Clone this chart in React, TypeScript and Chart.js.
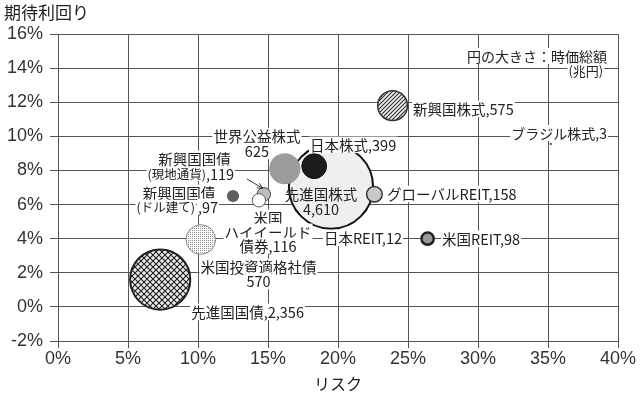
import React, { useEffect, useRef } from 'react';
import { Chart, registerables } from 'chart.js';

Chart.register(...registerables);

// ---- data (risk %, expected return %, market cap in 兆円) ----
const assetNames = [
  '先進国株式',
  '先進国国債',
  '世界公益株式',
  '新興国株式',
  '米国投資適格社債',
  '日本株式',
  'グローバルREIT',
  '新興国国債(現地通貨)',
  '米国ハイイールド債券',
  '日本REIT',
  '米国REIT',
  '新興国国債(ドル建て)',
  'ブラジル株式',
];
const riskPct = [19.5, 7.3, 16.2, 23.9, 10.2, 18.3, 22.6, 14.7, 14.35, 26.3, 26.4, 12.5, 35.2];
const returnPct = [7.05, 1.6, 8.1, 11.8, 3.95, 8.25, 6.6, 6.6, 6.25, 4.0, 4.0, 6.5, 9.55];
const marketCap = [4610, 2356, 625, 575, 570, 399, 158, 119, 116, 12, 98, 97, 3];

const xTickStep = 5;
const yTickStep = 2;

const FONT_JP = '"Noto Sans CJK JP", "Noto Sans", sans-serif';
const FONT_TICK = '"Liberation Sans", Arial, sans-serif';

// ---- styles (kept apart from data) ----
const fillKinds: string[] = [
  '#efefef', 'cross', '#9c9c9c', 'hatch', 'stipple', '#1c1c1c', '#c9c9c9',
  '#bdbdbd', '#ffffff', '#999999', '#9a9a9a', '#5e5e5e', '#333333',
];
const borderColors = [
  '#111', '#222', '#9c9c9c', '#333', '#8a8a8a', '#111', '#333',
  '#444', '#555', '#222', '#222', '#5e5e5e', '#333',
];
const borderWidths = [2, 2, 0, 1.5, 1, 1, 1.5, 1, 1, 1.5, 2.5, 0, 0];

function makePattern(kind: string): CanvasPattern | string {
  const c = document.createElement('canvas');
  const g = c.getContext('2d')!;
  if (kind === 'hatch') {
    c.width = 4; c.height = 4;
    g.fillStyle = '#f2f2f2'; g.fillRect(0, 0, 4, 4);
    g.strokeStyle = '#2a2a2a'; g.lineWidth = 1.1;
    g.beginPath();
    g.moveTo(0, 4); g.lineTo(4, 0);
    g.moveTo(-1, 1); g.lineTo(1, -1);
    g.moveTo(3, 5); g.lineTo(5, 3);
    g.stroke();
  } else if (kind === 'cross') {
    c.width = 6; c.height = 6;
    g.fillStyle = '#f0f0f0'; g.fillRect(0, 0, 6, 6);
    g.strokeStyle = '#222'; g.lineWidth = 1.2;
    g.beginPath();
    g.moveTo(0, 0); g.lineTo(6, 6);
    g.moveTo(6, 0); g.lineTo(0, 6);
    g.stroke();
  } else if (kind === 'stipple') {
    c.width = 2; c.height = 2;
    g.fillStyle = '#ffffff'; g.fillRect(0, 0, 2, 2);
    g.fillStyle = '#8c8c8c'; g.fillRect(0, 0, 1, 1);
  } else {
    return kind;
  }
  return g.createPattern(c, 'repeat') || '#ccc';
}

// ---- annotations (text placed in data coordinates) ----
type Ann = { text: string; x: number; y: number; align: 'left' | 'right' | 'center'; size: number; bg: string | null };
const annotations: Ann[] = [
  { text: '円の大きさ：時価総額', x: 39.21, y: 14.72, align: 'right', size: 14, bg: '#fff' },
  { text: '(兆円)', x: 37.7, y: 13.83, align: 'center', size: 13, bg: '#fff' },
  { text: '新興国株式,575', x: 25.36, y: 11.61, align: 'left', size: 14.5, bg: '#fff' },
  { text: 'ブラジル株式,3', x: 39.21, y: 10.2, align: 'right', size: 14, bg: '#fff' },
  { text: '日本株式,399', x: 18.0, y: 9.5, align: 'left', size: 14.5, bg: '#fff' },
  { text: '世界公益株式', x: 14.21, y: 10.02, align: 'center', size: 14.5, bg: '#fff' },
  { text: '625', x: 14.21, y: 9.14, align: 'center', size: 14.5, bg: '#fff' },
  { text: '新興国国債', x: 9.75, y: 8.68, align: 'center', size: 14.5, bg: '#fff' },
  { text: '(現地通貨)', x: 10.57, y: 7.8, align: 'right', size: 12.5, bg: '#fff' },
  { text: ',119', x: 10.57, y: 7.8, align: 'left', size: 14.5, bg: '#fff' },
  { text: '新興国国債', x: 8.64, y: 6.68, align: 'center', size: 14.5, bg: '#fff' },
  { text: '(ドル建て)', x: 9.79, y: 5.86, align: 'right', size: 12.5, bg: '#fff' },
  { text: ',97', x: 10.0, y: 5.86, align: 'left', size: 14.5, bg: '#fff' },
  { text: '米国', x: 15.0, y: 5.22, align: 'center', size: 14.5, bg: '#fff' },
  { text: 'ハイイールド', x: 15.0, y: 4.4, align: 'center', size: 14.5, bg: '#fff' },
  { text: '債券,116', x: 15.0, y: 3.58, align: 'center', size: 14.5, bg: '#fff' },
  { text: '先進国株式', x: 18.79, y: 6.62, align: 'center', size: 14.5, bg: null },
  { text: '4,610', x: 18.79, y: 5.74, align: 'center', size: 14.5, bg: null },
  { text: 'グローバルREIT,158', x: 23.5, y: 6.62, align: 'left', size: 14.5, bg: '#fff' },
  { text: '日本REIT,12', x: 24.57, y: 4.04, align: 'right', size: 14.5, bg: '#fff' },
  { text: '米国REIT,98', x: 27.43, y: 3.99, align: 'left', size: 14.5, bg: '#fff' },
  { text: '米国投資適格社債', x: 14.32, y: 2.34, align: 'center', size: 14.5, bg: '#fff' },
  { text: '570', x: 14.32, y: 1.52, align: 'center', size: 14.5, bg: '#fff' },
  { text: '先進国国債,2,356', x: 13.54, y: -0.29, align: 'center', size: 14.5, bg: '#fff' },
];
const arrowFrom = { x: 13.5, y: 7.5 };
const arrowTo = { x: 14.62, y: 6.95 };

const labelPlugin = {
  id: 'bubbleLabels',
  afterDatasetsDraw(chart: any) {
    const { ctx, scales, chartArea } = chart;
    const xs = scales.x, ys = scales.y;
    ctx.save();
    // arrow
    const ax0 = xs.getPixelForValue(arrowFrom.x), ay0 = ys.getPixelForValue(arrowFrom.y);
    const ax1 = xs.getPixelForValue(arrowTo.x), ay1 = ys.getPixelForValue(arrowTo.y);
    ctx.strokeStyle = '#333'; ctx.lineWidth = 1;
    ctx.beginPath(); ctx.moveTo(ax0, ay0); ctx.lineTo(ax1, ay1); ctx.stroke();
    const ang = Math.atan2(ay1 - ay0, ax1 - ax0);
    ctx.beginPath();
    ctx.moveTo(ax1 - 6 * Math.cos(ang - 0.45), ay1 - 6 * Math.sin(ang - 0.45));
    ctx.lineTo(ax1, ay1);
    ctx.lineTo(ax1 - 6 * Math.cos(ang + 0.45), ay1 - 6 * Math.sin(ang + 0.45));
    ctx.stroke();

    ctx.textBaseline = 'middle';
    ctx.textAlign = 'left';
    for (const a of annotations) {
      const px = xs.getPixelForValue(a.x);
      const py = ys.getPixelForValue(a.y);
      ctx.font = `${a.size}px ${FONT_JP}`;
      const w = ctx.measureText(a.text).width;
      const left = a.align === 'left' ? px : a.align === 'right' ? px - w : px - w / 2;
      if (a.bg) {
        ctx.fillStyle = a.bg;
        ctx.fillRect(left - 1, py - a.size / 2 - 1, w + 2, a.size + 2);
      }
      ctx.fillStyle = '#222';
      ctx.fillText(a.text, left, py + 0.5);
    }

    // axis titles
    ctx.font = `17px ${FONT_JP}`;
    ctx.fillStyle = '#222';
    ctx.textAlign = 'left';
    ctx.fillText('期待利回り', 4, 13);
    ctx.font = `16px ${FONT_JP}`;
    ctx.textAlign = 'center';
    ctx.fillText('リスク', (chartArea.left + chartArea.right) / 2, 384);
    ctx.restore();
  },
};

export default function App() {
  const ref = useRef<HTMLCanvasElement>(null);
  useEffect(() => {
    if (!ref.current) return;
    const fills = fillKinds.map((k) => makePattern(k));
    const points = assetNames.map((_, i) => ({
      x: riskPct[i],
      y: returnPct[i],
      r: 0.62 * Math.sqrt(marketCap[i]),
    }));
    const chart = new Chart(ref.current, {
      type: 'bubble',
      data: {
        datasets: [
          {
            label: '資産',
            data: points,
            backgroundColor: fills as any,
            borderColor: borderColors,
            borderWidth: borderWidths,
            hoverRadius: 0,
          } as any,
        ],
      },
      options: {
        animation: false,
        responsive: false,
        layout: { autoPadding: false, padding: { top: 34, right: 22, left: 0, bottom: 0 } },
        plugins: { legend: { display: false }, tooltip: { enabled: false } },
        scales: {
          x: {
            type: 'linear',
            min: 0,
            max: 40,
            afterFit: (s: any) => { s.height = 55; },
            ticks: {
              stepSize: xTickStep,
              callback: (v: any) => `${v}%`,
              font: { family: FONT_TICK, size: 18 },
              color: '#333',
              padding: 0,
            },
            grid: { color: '#555', lineWidth: 1, tickLength: 7, tickColor: '#555' },
            border: { color: '#555', width: 1 },
          },
          y: {
            type: 'linear',
            min: -2,
            max: 16,
            afterFit: (s: any) => { s.width = 58; },
            ticks: {
              stepSize: yTickStep,
              callback: (v: any) => `${v}%`,
              font: { family: FONT_TICK, size: 18 },
              color: '#333',
              padding: 7,
            },
            grid: { color: '#555', lineWidth: 1, tickLength: 8, tickColor: '#555' },
            border: { color: '#555', width: 1 },
          },
        },
      },
      plugins: [labelPlugin],
    });
    return () => chart.destroy();
  }, []);
  return (
    <div style={{ position: 'absolute', left: 0, top: 0, width: 640, height: 396, background: '#fff' }}>
      <canvas ref={ref} width={640} height={396} />
    </div>
  );
}
